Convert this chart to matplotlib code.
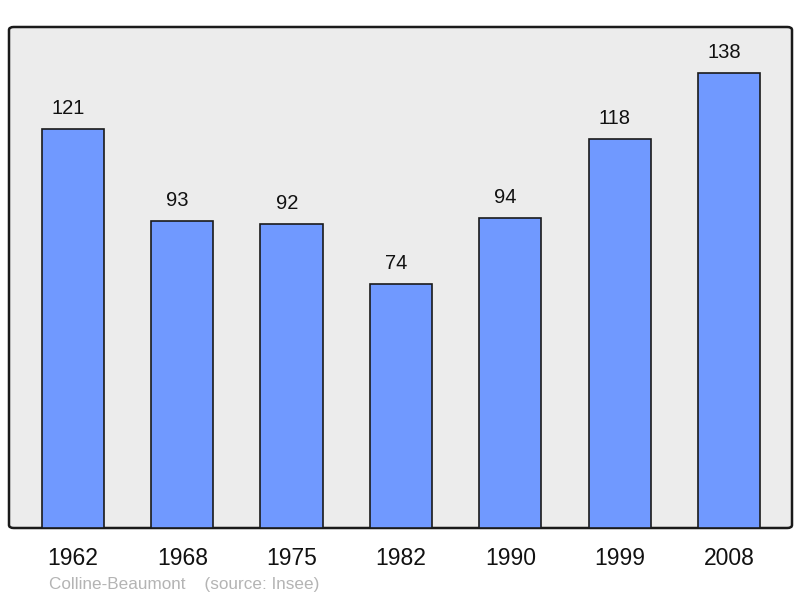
import matplotlib
matplotlib.use("Agg")
import matplotlib.pyplot as plt
import matplotlib.transforms as mtransforms
from matplotlib.patches import FancyBboxPatch

years = ["1962", "1968", "1975", "1982", "1990", "1999", "2008"]
population = [121, 93, 92, 74, 94, 118, 138]

plt.rcParams['font.family'] = ['Liberation Sans', 'DejaVu Sans']

fig = plt.figure(figsize=(8, 5.98), dpi=100)
# axes box in pixels: x 9..792, y 27..528
ax = fig.add_axes([9 / 800, (598 - 528) / 598, 783 / 800, 501 / 598])
ax.set_facecolor('none')

frame = FancyBboxPatch((0, 0), 1, 1, boxstyle="round,pad=0,rounding_size=0.006",
                       transform=ax.transAxes, facecolor='#ececec',
                       edgecolor='#1a1a1a', linewidth=1.8, zorder=0, clip_on=False)
ax.add_patch(frame)

x = list(range(len(years)))
ax.bar(x, population, width=0.57, color='#7099ff', edgecolor='#1a1a1a',
       linewidth=1.2, zorder=2)

# value labels sit a little left of the bar centre, like the original
for xi, v in zip(x, population):
    ax.text(xi - 0.045, v + 6.2, str(v), ha='center', va='center', fontsize=14.5, color='#111111')

ax.set_xlim(-0.585, 6.576)
ax.set_ylim(0, 151.8)
ax.set_xticks([])
ax.set_yticks([])
for s in ax.spines.values():
    s.set_visible(False)

# year labels just below the frame
trans = mtransforms.blended_transform_factory(ax.transData, fig.transFigure)
for xi, yr in zip(x, years):
    ax.text(xi, 1 - 558.5 / 598, yr, transform=trans, ha='center', va='center',
            fontsize=16.5, color='#111111', clip_on=False)

fig.text(49 / 800, 1 - 585 / 598, "Colline-Beaumont    (source: Insee)",
         fontsize=12.3, color='#b4b4b4', ha='left', va='center')

fig.savefig("out.png", dpi=100)
